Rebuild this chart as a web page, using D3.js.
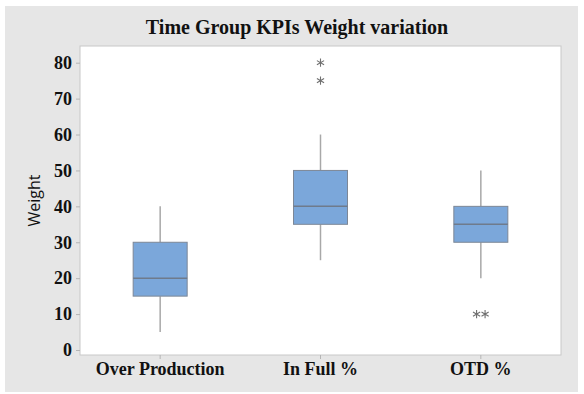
<!DOCTYPE html>
<html>
<head>
<meta charset="utf-8">
<script src="https://cdn.jsdelivr.net/npm/d3@7"></script>
<style>
  body { margin: 0; background: #fff; }
</style>
</head>
<body>
<div id="chart"></div>
<script>
// Datos
const categories = ["Over Production", "In Full %", "OTD %"];
const whiskerLow = [5, 25, 20];
const q1 = [15, 35, 30];
const medians = [20, 40, 35];
const q3 = [30, 50, 40];
const whiskerHigh = [40, 60, 50];
const outliers = [[], [80, 75], [10, 10]];
const yTicks = [0, 10, 20, 30, 40, 50, 60, 70, 80];

const W = 584, H = 394;
const svg = d3.select("#chart").append("svg")
    .attr("width", W)
    .attr("height", H);

// Fondo gris exterior
svg.append("rect")
    .attr("x", 5).attr("y", 6)
    .attr("width", 573).attr("height", 386)
    .attr("fill", "#e6e6e6");

const plot = { left: 80, top: 46, right: 561, bottom: 355 };

// Área de trazado
svg.append("rect")
    .attr("x", plot.left).attr("y", plot.top)
    .attr("width", plot.right - plot.left)
    .attr("height", plot.bottom - plot.top)
    .attr("fill", "#fff")
    .attr("stroke", "#c8c8c8")
    .attr("stroke-width", 1);

// Escalas
const x = d3.scaleBand()
    .domain(categories)
    .range([plot.left, plot.right]);
const y = d3.scaleLinear()
    .domain([0, 80])
    .range([350, 62.7]);

const serif = "'Liberation Serif', 'Times New Roman', serif";

// Eje Y
const yAxis = svg.append("g")
    .attr("transform", `translate(${plot.left},0)`)
    .call(d3.axisLeft(y).tickValues(yTicks).tickSize(4).tickPadding(4));
yAxis.select(".domain").remove();
yAxis.selectAll(".tick line").attr("stroke", "#b5b5b5");
yAxis.selectAll(".tick text")
    .attr("fill", "#111")
    .style("font-family", serif)
    .style("font-weight", "bold")
    .style("font-size", "18px");

// Eje X
const xAxis = svg.append("g")
    .attr("transform", `translate(0,${plot.bottom})`)
    .call(d3.axisBottom(x).tickSize(4).tickPadding(3));
xAxis.select(".domain").remove();
xAxis.selectAll(".tick line").attr("stroke", "#b5b5b5");
xAxis.selectAll(".tick text")
    .attr("fill", "#111")
    .style("font-family", serif)
    .style("font-weight", "bold")
    .style("font-size", "18px");

// Cajas
const boxW = 54;
const data = categories.map((c, i) => ({
    cat: c, lo: whiskerLow[i], q1: q1[i], med: medians[i], q3: q3[i], hi: whiskerHigh[i], out: outliers[i]
}));

const groups = svg.selectAll(".box")
    .data(data)
    .enter().append("g")
    .attr("class", "box")
    .attr("transform", d => `translate(${x(d.cat) + x.bandwidth() / 2},0)`);

groups.append("line")
    .attr("x1", 0).attr("x2", 0)
    .attr("y1", d => y(d.q3)).attr("y2", d => y(d.hi))
    .attr("stroke", "#a8a8a8").attr("stroke-width", 1.5);
groups.append("line")
    .attr("x1", 0).attr("x2", 0)
    .attr("y1", d => y(d.q1)).attr("y2", d => y(d.lo))
    .attr("stroke", "#a8a8a8").attr("stroke-width", 1.5);

groups.append("rect")
    .attr("x", -boxW / 2)
    .attr("width", boxW)
    .attr("y", d => y(d.q3))
    .attr("height", d => y(d.q1) - y(d.q3))
    .attr("fill", "#7ba7da")
    .attr("stroke", "#7d8796")
    .attr("stroke-width", 1);

groups.append("line")
    .attr("x1", -boxW / 2).attr("x2", boxW / 2)
    .attr("y1", d => y(d.med)).attr("y2", d => y(d.med))
    .attr("stroke", "#6f7b8c").attr("stroke-width", 1.5);

// Valores atípicos (asteriscos); los empates se desplazan a los lados
groups.each(function(d) {
    const g = d3.select(this);
    const counts = {};
    d.out.forEach(v => { counts[v] = (counts[v] || 0) + 1; });
    const seen = {};
    d.out.forEach(v => {
        const n = counts[v];
        const k = seen[v] = (seen[v] || 0) + 1;
        const dx = n > 1 ? (k - (n + 1) / 2) * 8.5 : 0;
        g.append("path")
            .attr("d", d3.symbol(d3.symbolAsterisk).size(48)())
            .attr("transform", `translate(${dx},${y(v)})`)
            .attr("fill", "none")
            .attr("stroke", "#707070")
            .attr("stroke-width", 1.1);
    });
});

// Título
svg.append("text")
    .attr("x", 297)
    .attr("y", 34)
    .attr("text-anchor", "middle")
    .style("font-family", serif)
    .style("font-weight", "bold")
    .style("font-size", "20px")
    .attr("fill", "#111")
    .text("Time Group KPIs Weight variation");

// Etiqueta del eje Y
svg.append("text")
    .attr("transform", `translate(40,${(plot.top + plot.bottom) / 2}) rotate(-90)`)
    .attr("text-anchor", "middle")
    .style("font-family", "'Open Sans', 'Noto Sans', sans-serif")
    .style("font-size", "16px")
    .attr("fill", "#111")
    .text("Weight");
</script>
</body>
</html>
